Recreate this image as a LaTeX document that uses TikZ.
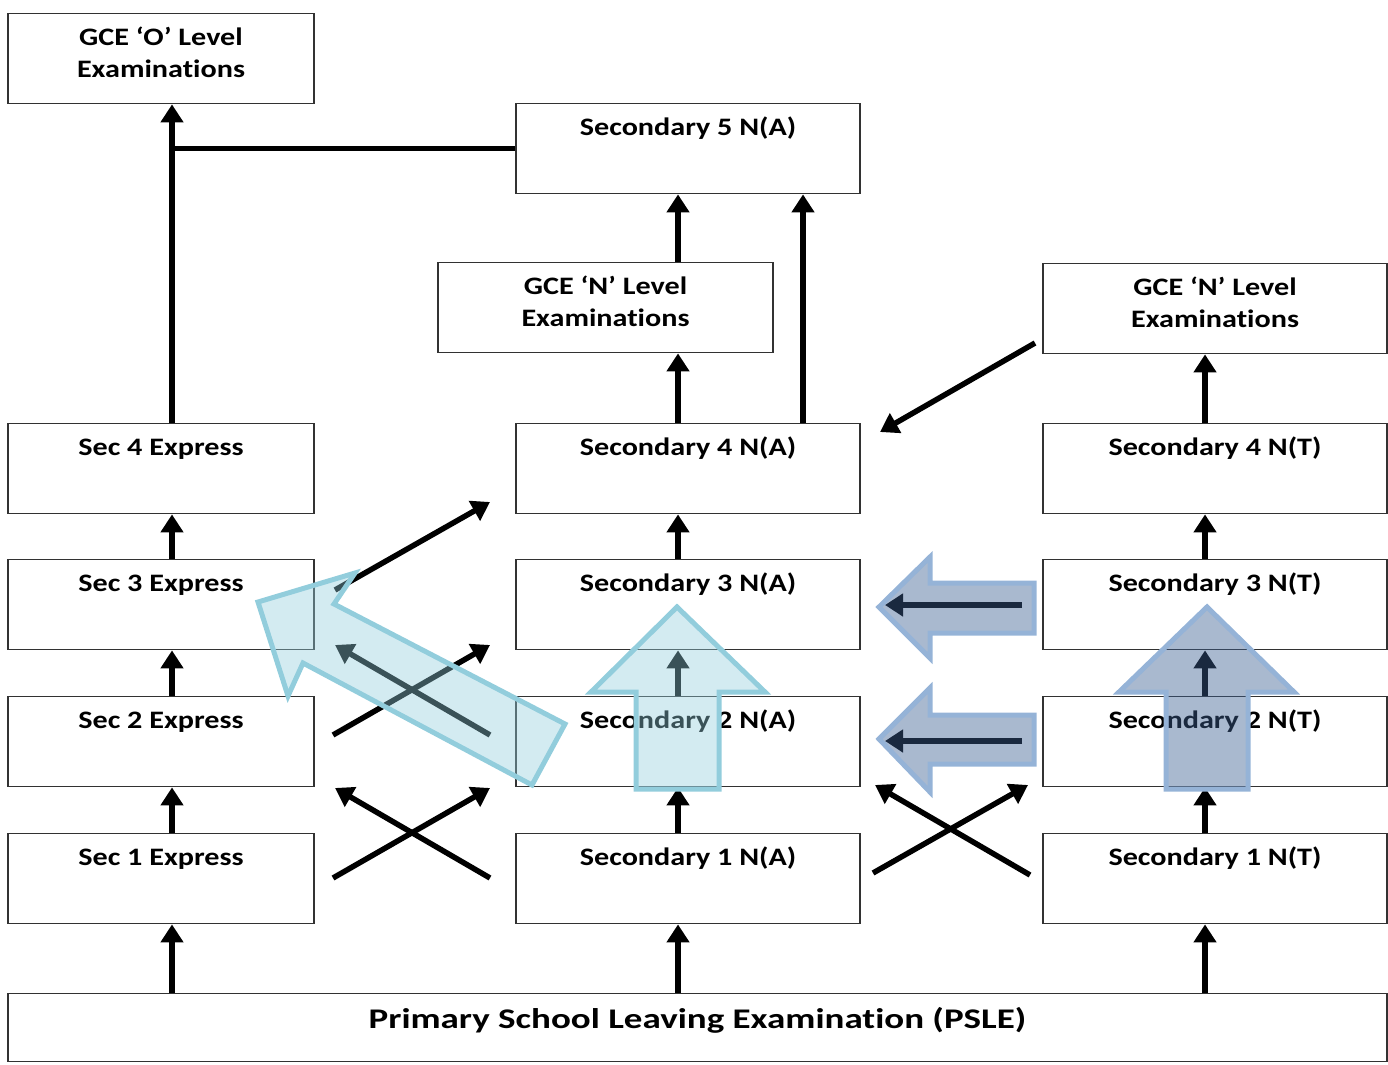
\documentclass[tikz,border=0pt]{standalone}
\usepackage{fontspec}
\newfontfamily\boxfont{Carlito}[FakeStretch=1.2,Ligatures=NoCommon]
\newfontfamily\pslefont{Carlito}[FakeStretch=1.3,Ligatures=NoCommon]
\usetikzlibrary{arrows.meta}
\definecolor{paleblue}{RGB}{146,205,220}
\definecolor{steelline}{RGB}{149,179,215}
\definecolor{steelfill}{RGB}{60,95,145}
\definecolor{boxline}{RGB}{50,50,50}

\begin{document}
\begin{tikzpicture}[x=0.02cm,y=-0.02cm,
	box/.style = {draw=boxline, line width=0.8pt, anchor=north, inner sep=0pt,
		font=\boxfont\bfseries\fontsize{14.3}{18.2}\selectfont},
	secbox/.style = {box, text height=0.64cm, text depth=1.16cm},
	lbox/.style = {secbox, minimum width=6.12cm},
	mbox/.style = {secbox, minimum width=6.88cm},
	gbox/.style = {box, minimum height=1.8cm},
	gtext/.style = {align=center, inner sep=0pt, yshift=0.12cm,
		font=\boxfont\bfseries\fontsize{14.3}{18.2}\selectfont},
	arr/.style = {line width=0.11cm, -{Triangle[length=0.36cm,width=0.44cm]}},
	big pale/.style = {draw=paleblue, line width=0.1cm, line join=miter, fill=paleblue, fill opacity=0.4},
	big steel/.style = {draw=steelline, line width=0.1cm, line join=miter, fill=steelfill, fill opacity=0.44}]

\useasboundingbox (0,0) rectangle (1388,1064);

% exam boxes
\node[gbox, minimum width=6.12cm] (olvl) at (161,13) {};
\node[gtext] (olvltxt) at (olvl.center) {GCE ‘O’ Level\\Examinations};
\node[mbox] (s5na) at (688,103) {Secondary 5 N(A)};
\node[gbox, minimum width=6.7cm] (nlvla) at (605.5,262) {};
\node[gtext] (nlvlatxt) at (nlvla.center) {GCE ‘N’ Level\\Examinations};
\node[gbox, minimum width=6.88cm] (nlvlt) at (1215,263) {};
\node[gtext] (nlvlttxt) at (nlvlt.center) {GCE ‘N’ Level\\Examinations};

% secondary levels
\node[lbox] (s4e) at (161,423) {Sec 4 Express};
\node[mbox] (s4na) at (688,423) {Secondary 4 N(A)};
\node[mbox] (s4nt) at (1215,423) {Secondary 4 N(T)};
\node[lbox] (s3e) at (161,559) {Sec 3 Express};
\node[mbox] (s3na) at (688,559) {Secondary 3 N(A)};
\node[mbox] (s3nt) at (1215,559) {Secondary 3 N(T)};
\node[lbox] (s2e) at (161,696) {Sec 2 Express};
\node[mbox] (s2na) at (688,696) {Secondary 2 N(A)};
\node[mbox] (s2nt) at (1215,696) {Secondary 2 N(T)};
\node[lbox] (s1e) at (161,833) {Sec 1 Express};
\node[mbox] (s1na) at (688,833) {Secondary 1 N(A)};
\node[mbox] (s1nt) at (1215,833) {Secondary 1 N(T)};

\node[box, minimum width=27.58cm, text height=0.7cm, text depth=0.66cm,
	font=\pslefont\bfseries\fontsize{16.2}{20}\selectfont] (psle) at (697.5,993)
	{Primary School Leaving Examination (PSLE)};

% arrow columns
\coordinate (colE) at (172,0);
\coordinate (colNA) at (678,0);
\coordinate (colNB) at (803,0);
\coordinate (colNT) at (1205,0);

\foreach \c/\x in {e/colE, na/colNA, nt/colNT} {
	\draw[arr] (psle.north -| \x) -- (s1\c.south -| \x);
	\foreach \i/\j in {1/2, 2/3, 3/4}
		\draw[arr] (s\i\c.north -| \x) -- (s\j\c.south -| \x);
}

\draw[arr] (s4e.north -| colE) -- (olvl.south -| colE);
\draw[line width=0.11cm] (s5na.west) -- (s5na.west -| colE);
\draw[arr] (s4na.north -| colNA) -- (nlvla.south -| colNA);
\draw[arr] (nlvla.north -| colNA) -- (s5na.south -| colNA);
\draw[arr] (s4na.north -| colNB) -- (s5na.south -| colNB);
\draw[arr] (s4nt.north -| colNT) -- (nlvlt.south -| colNT);

% transfer arrows
\foreach \nm/\px/\py in {t1/1035/343, t2/880/432, u1/335/590, u2/490/502,
	a1/333/735, a2/490/645, b1/490/735, b2/335/645,
	c1/333/878, c2/490/788, d1/490/878, d2/335/788,
	e1/873/873, e2/1028/785, f1/1030/875, f2/875/785,
	h1/1022/605, h2/885/605, k1/1022/741, k2/885/741}
	\coordinate (\nm) at (\px,\py);

\draw[arr] (t1) -- (t2);
\draw[arr] (u1) -- (u2);
\draw[arr] (a1) -- (a2);
\draw[arr] (b1) -- (b2);
\draw[arr] (c1) -- (c2);
\draw[arr] (d1) -- (d2);
\draw[arr] (e1) -- (e2);
\draw[arr] (f1) -- (f2);
\draw[arr] (h1) -- (h2);
\draw[arr] (k1) -- (k2);

% big overlay arrows
\draw[big pale] (258,602) -- (355,573) -- (334,604) -- (565,724) -- (532,785) -- (303,663) -- (288,696) -- cycle;
\draw[big pale] (677,607) -- (765,692) -- (719,692) -- (719,789) -- (636,789) -- (636,692) -- (591,692) -- cycle;
\draw[big steel] (1207,607) -- (1294,692) -- (1248,692) -- (1248,789) -- (1166,789) -- (1166,692) -- (1119,692) -- cycle;
\draw[big steel] (879,607) -- (930,557) -- (930,583) -- (1034,583) -- (1034,633) -- (930,633) -- (930,658) -- cycle;
\draw[big steel] (879,739) -- (930,688) -- (930,715) -- (1034,715) -- (1034,764) -- (930,764) -- (930,792) -- cycle;
\end{tikzpicture}
\end{document}
